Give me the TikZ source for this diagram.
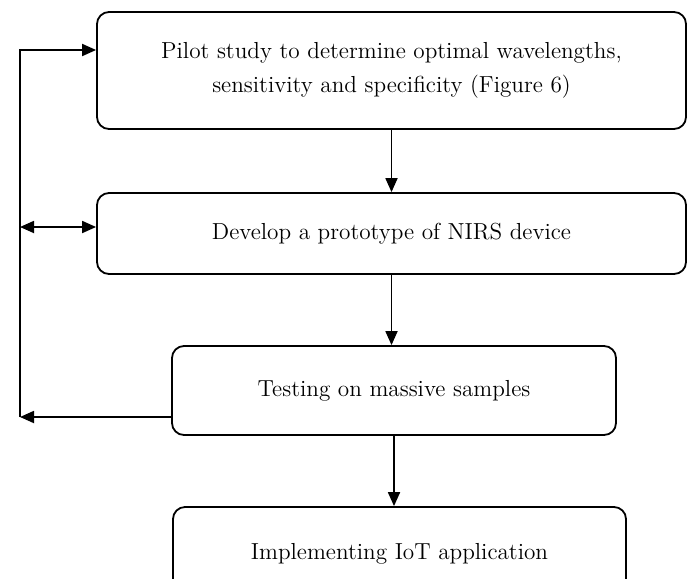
\documentclass[tikz,border=0pt]{standalone}
\usepackage{tikz}
\usetikzlibrary{arrows.meta}
\tikzset{>={Triangle[length=7pt,width=6pt]}}
\tikzset{block/.style = {shape=rectangle,draw,rounded corners=6pt,line width=0.9pt,inner sep=0pt,align=center,font=\fontsize{11.6}{17}\selectfont}}
\tikzset{edge/.style = {->,line width=0.9pt}}

\begin{document}
\begin{tikzpicture}[x=0.5pt,y=-0.5pt]
            \clip (0,0) rectangle (688,578);

            % Vertices
            \node[block,minimum width=294.5pt,minimum height=58.5pt] (pilot) at (391.5,70.5) {Pilot study to determine optimal wavelengths,\\sensitivity and specificity (Figure 6)};
            \node[block,minimum width=294.5pt,minimum height=40.5pt] (proto) at (391.5,233.5) {Develop a prototype of NIRS device};
            \node[block,minimum width=222pt,minimum height=44.5pt] (test) at (394,390.5) {Testing on massive samples};
            \node[block,minimum width=226.5pt,minimum height=46.5pt] (iot) at (399.5,553.5) {Implementing IoT application};

            % feedback corners
            \coordinate (low) at (20,417);
            \coordinate (mid) at (20,227);
            \coordinate (high) at (20,50);

            % Edges
            \draw[edge] (pilot.south) -- (proto.north);
            \draw[edge] (proto.south) -- (proto.south |- test.north);
            \draw[edge] (test.south) -- (test.south |- iot.north);

            % feedback
            \draw[edge] (test.west |- low) -- (low);
            \draw[edge] (low) -- (high) -- (high -| pilot.west);
            \draw[edge,<->] (mid) -- (mid -| proto.west);
        \end{tikzpicture}
\end{document}
